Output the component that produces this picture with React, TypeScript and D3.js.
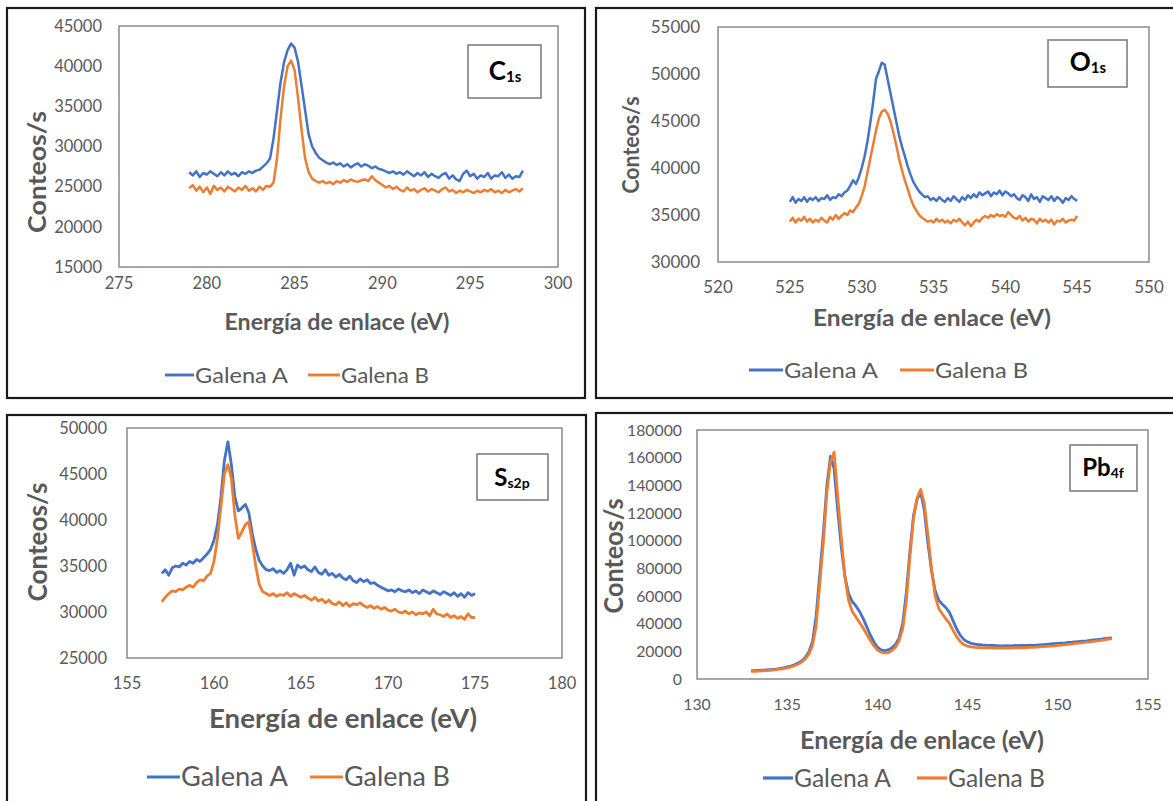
import React from "react";
import * as d3 from "d3";

// ---------------- DATA ----------------
const seriesNames = ["Galena A", "Galena B"];
const xTitle = "Energía de enlace (eV)";
const yTitle = "Conteos/s";

// C1s : x from 279.0 step 0.2
const c1sStart = 279.0;
const c1sStep = 0.2;
const c1sGalenaA = [
  26800, 26400, 26900, 26200, 26700, 26500, 26900, 26600, 26300, 26800,
  26400, 26900, 26500, 26700, 26300, 26800, 26600, 26900, 26700, 27000,
  27100, 27500, 27900, 28500, 31000, 34500, 38000, 40500, 42000, 42800,
  42300, 40500, 37500, 34500, 31500, 30000, 29200, 28600, 28300, 28000,
  27800, 28000, 27700, 27900, 27500, 27800, 27400, 27700, 27900, 27500,
  27800, 27600, 27300, 27500, 27200, 27100, 26900, 26700, 26900, 26600,
  26800, 26500, 26900, 26600, 26300, 26700, 26400, 26800, 26200, 26600,
  26300, 26100, 26500, 26700, 26000, 26400, 25900, 25700, 26600, 27000,
  26300, 26600, 26000, 26400, 26200, 26700, 26000, 26400, 26300, 26800,
  26100, 26500, 26000, 26300, 26200, 27000,
];
const c1sGalenaB = [
  24800, 25200, 24500, 25000, 24300, 24900, 24100, 25100, 24600, 24900,
  24400, 25000, 24700, 24400, 24900, 24600, 25100, 24500, 24800, 24400,
  25000, 24600, 25100, 25000, 25500, 28500, 33500, 37500, 40000, 40700,
  39500, 36000, 32000, 28500, 26800, 26000, 25700, 25500, 25700, 25400,
  25600, 25300, 25700, 25500, 25800, 25600, 25900, 25700, 25600, 25800,
  25900, 25700, 26300, 25800, 25500, 25200, 24900, 25100, 24700, 25000,
  24600, 24400, 24900, 24500, 24700, 24300, 24600, 24800, 24400, 24700,
  24500, 24300, 24700, 24900, 24400, 24600, 24200, 24500, 24300, 24600,
  24400, 24200, 24500, 24300, 24600, 24400, 24700, 24300, 24500, 24200,
  24600, 24300, 24500, 24700, 24400, 24800,
];
const c1sXTicks = [275, 280, 285, 290, 295, 300];
const c1sYTicks = [15000, 20000, 25000, 30000, 35000, 40000, 45000];

// O1s : x from 525.0 step 0.2
const o1sStart = 525.0;
const o1sStep = 0.2;
const o1sGalenaA = [
  36400, 36900, 36300, 36700, 36500, 36900, 36400, 36800, 36600, 36900,
  36500, 36800, 36700, 37100, 36600, 36900, 36800, 37200, 37000, 37400,
  37600, 38100, 38700, 38300, 39000, 40000, 41200, 42800, 44800, 47000,
  49500, 50300, 51200, 51000, 49500, 48000, 46500, 45000, 43500, 42300,
  41300, 40200, 39300, 38500, 38000, 37500, 37200, 36900, 37000, 36600,
  36800, 36500, 36900, 36600, 36400, 36800, 36500, 37000, 36700, 36400,
  36900, 36600, 37100, 36800, 37200, 36900, 37400, 37100, 37300, 37500,
  37000, 37400, 37200, 37600, 37100, 37500, 37300, 37000, 37200, 36800,
  36600, 37100, 36900, 36500, 37200, 36700, 36900, 36400, 37000, 36800,
  36600, 37000, 36500, 36900, 36700, 36300, 36800, 36600, 37000, 36700,
  36500,
];
const o1sGalenaB = [
  34300, 34700, 34200, 34600, 34400, 34800, 34300, 34600, 34200, 34500,
  34300, 34700, 34400, 34200, 34800, 34500, 35000, 34600, 34900, 35200,
  35000, 35500, 35300, 35800, 36200, 37000, 38000, 39500, 41000, 42500,
  44000, 45300, 46000, 46200, 45800, 45000, 43800, 42500, 41000, 39800,
  38700, 37800, 36800, 36000, 35500, 35000, 34700, 34500, 34300, 34400,
  34200, 34600, 34300, 34500, 34200, 34400, 34100, 34500, 34300, 34600,
  34200, 33900, 34300, 33800, 34200, 34500, 34300, 34700, 34900, 34700,
  35000, 34800, 35100, 34900, 35000, 34800, 35300, 35000, 34700, 34600,
  34900, 34400, 34700, 34300, 34600, 34500, 34100, 34600, 34300, 34500,
  34200, 34500, 34000, 34400, 34300, 34600, 34200, 34400, 34500, 34400,
  34900,
];
const o1sXTicks = [520, 525, 530, 535, 540, 545, 550];
const o1sYTicks = [30000, 35000, 40000, 45000, 50000, 55000];

// S2p : x from 157.0 step 0.2
const s2pStart = 157.0;
const s2pStep = 0.2;
const s2pGalenaA = [
  34200, 34600, 34000, 34800, 35000, 34900, 35300, 35100, 35500, 35300,
  35700, 35500, 35900, 36300, 36800, 37800, 39500, 42500, 46500, 48500,
  46000, 42500, 41000, 41300, 41700, 40800, 38500, 36800, 35600, 35000,
  34600, 34500, 34700, 34300, 34500, 34200, 34600, 35300, 34000, 35100,
  34800, 35000, 34600, 34400, 34900, 34300, 34100, 34600, 34000, 34200,
  33800, 34100, 33700, 33500, 33900, 33400, 33200, 33600, 33300, 33500,
  33100, 33200, 32900, 32700, 32500, 32300, 32400, 32200, 32500, 32300,
  32200, 32400, 32100, 32300, 32000, 32400, 32200, 32000, 32300, 32100,
  31900, 32200, 32000, 31800, 32100, 31700, 32000, 31600, 32100, 31800,
  32000,
];
const s2pGalenaB = [
  31100, 31600, 32000, 32300, 32200, 32500, 32400, 32700, 32900, 32700,
  33200, 33500, 33400, 33900, 34200, 35500, 38000, 41500, 45000, 46000,
  44500, 40500, 38000, 38700, 39500, 39800, 37500, 35000, 33000, 32200,
  32000, 31800, 32000, 31700, 31900, 31800, 32100, 31700, 32000, 31800,
  31600, 31800, 31500, 31300, 31600, 31200, 31400, 31000, 31300, 30900,
  30800, 31100, 30700, 31000, 30600, 30900, 30800, 31000, 30700, 30500,
  30700, 30400, 30600, 30300, 30500, 30200, 30100, 30300, 30000, 29900,
  30100, 29800, 30000, 29700, 29900, 29800, 30000, 29600, 30300, 29800,
  29700, 29500, 29800, 29400, 29600, 29300, 29500, 29200, 29800, 29400,
  29400,
];
const s2pXTicks = [155, 160, 165, 170, 175, 180];
const s2pYTicks = [25000, 30000, 35000, 40000, 45000, 50000];

// Pb4f : x from 133.0 step 0.2
const pb4fStart = 133.0;
const pb4fStep = 0.2;
const pb4fGalenaA = [
  6000, 6100, 6300, 6400, 6500, 6700, 6900, 7200, 7600, 8100,
  8700, 9400, 10300, 11500, 13000, 15500, 19500, 27000, 45000, 75000,
  105000, 140000, 161000, 152000, 122000, 95000, 74000, 62000, 56000, 53000,
  49000, 44000, 38000, 32000, 27000, 23000, 21000, 20500, 21000, 22500,
  25000, 29500, 40000, 62000, 92000, 118000, 130000, 135000, 122000, 98000,
  78000, 64000, 57000, 54000, 51500, 48000, 42000, 36000, 31500, 28500,
  26800, 25800, 25200, 24900, 24600, 24400, 24300, 24200, 24100, 24000,
  24000, 24100, 24000, 24200, 24100, 24300, 24200, 24400, 24300, 24500,
  24700, 24900, 25100, 25300, 25500, 25700, 25900, 26100, 26400, 26600,
  26900, 27100, 27400, 27600, 27900, 28200, 28500, 28800, 29200, 29600,
  29800,
];
const pb4fGalenaB = [
  5500, 5600, 5700, 5900, 6000, 6200, 6400, 6700, 7100, 7500,
  8100, 8800, 9600, 10700, 12200, 14500, 18000, 24000, 38000, 68000,
  98000, 135000, 157000, 164000, 132000, 102000, 74000, 57000, 49000, 45000,
  41000, 37000, 32500, 28000, 24000, 21000, 19500, 18800, 19000, 20500,
  23000, 27500, 36000, 56000, 88000, 116000, 131000, 137000, 127000, 104000,
  80000, 60000, 51000, 47000, 43500, 40000, 35000, 30500, 27000, 24800,
  23800, 23200, 22900, 22700, 22600, 22500, 22500, 22400, 22500, 22400,
  22400, 22500, 22400, 22600, 22500, 22700, 22600, 22800, 22900, 23000,
  23200, 23400, 23600, 23800, 24000, 24300, 24500, 24800, 25100, 25400,
  25700, 26000, 26300, 26600, 26900, 27200, 27500, 27900, 28300, 28800,
  29200,
];
const pb4fXTicks = [130, 135, 140, 145, 150, 155];
const pb4fYTicks = [0, 20000, 40000, 60000, 80000, 100000, 120000, 140000, 160000, 180000];

// ---------------- STYLE / LAYOUT ----------------
const FONT = "Lato, 'Open Sans', sans-serif";
const BLUE = "#4472C4";
const ORANGE = "#ED7D31";
const GRAY = "#595959";

type Panel = {
  border: { x: number; y: number; w: number; h: number };
  plot: { l: number; r: number; t: number; b: number };
  xTicks: number[];
  yTicks: number[];
  start: number;
  step: number;
  a: number[];
  b: number[];
  tickFs: number;
  yLabRight: number;
  xLabY: number;
  yT: { x: number; y: number; len: number; fs: number };
  xT: { x: number; y: number; len: number; fs: number };
  leg: { y: number; fs: number; a: [number, number, number, number]; b: [number, number, number, number] };
  box: { x: number; y: number; w: number; h: number; tx: number; ty: number; main: string; sub: string; fs: number; sfs: number };
  lw: number;
};

const panels: Panel[] = [
  {
    border: { x: 7, y: 8, w: 578, h: 390 },
    plot: { l: 119, r: 558, t: 26, b: 267 },
    xTicks: c1sXTicks, yTicks: c1sYTicks, start: c1sStart, step: c1sStep, a: c1sGalenaA, b: c1sGalenaB,
    tickFs: 16.5, yLabRight: 102, xLabY: 283,
    yT: { x: 38, y: 172, len: 122, fs: 24 },
    xT: { x: 337, y: 322, len: 225, fs: 22 },
    leg: { y: 375, fs: 22, a: [165, 194, 195, 93], b: [308, 340, 341, 88] },
    box: { x: 468, y: 45, w: 73, h: 53, tx: 505, ty: 74, main: "C", sub: "1s", fs: 26, sfs: 15 },
    lw: 2.5,
  },
  {
    border: { x: 596, y: 8, w: 600, h: 390 },
    plot: { l: 718, r: 1149, t: 27, b: 262 },
    xTicks: o1sXTicks, yTicks: o1sYTicks, start: o1sStart, step: o1sStep, a: o1sGalenaA, b: o1sGalenaB,
    tickFs: 17, yLabRight: 700, xLabY: 287,
    yT: { x: 631, y: 145, len: 97, fs: 22 },
    xT: { x: 932, y: 318, len: 238, fs: 22 },
    leg: { y: 370, fs: 22, a: [749, 783, 784, 94], b: [900, 934, 935, 93] },
    box: { x: 1048, y: 40, w: 79, h: 47, tx: 1088, ty: 65, main: "O", sub: "1s", fs: 26, sfs: 15 },
    lw: 2.5,
  },
  {
    border: { x: 7, y: 415, w: 579, h: 400 },
    plot: { l: 127, r: 562, t: 428, b: 658 },
    xTicks: s2pXTicks, yTicks: s2pYTicks, start: s2pStart, step: s2pStep, a: s2pGalenaA, b: s2pGalenaB,
    tickFs: 16.5, yLabRight: 107, xLabY: 683,
    yT: { x: 38, y: 542, len: 119, fs: 27 },
    xT: { x: 343, y: 719, len: 268, fs: 27 },
    leg: { y: 777, fs: 26, a: [147, 180, 181, 107], b: [310, 343, 344, 106] },
    box: { x: 477, y: 454, w: 71, h: 46, tx: 512, ty: 480, main: "S", sub: "s2p", fs: 24, sfs: 14 },
    lw: 2.8,
  },
  {
    border: { x: 596, y: 413, w: 600, h: 400 },
    plot: { l: 697, r: 1148, t: 430, b: 679 },
    xTicks: pb4fXTicks, yTicks: pb4fYTicks, start: pb4fStart, step: pb4fStep, a: pb4fGalenaA, b: pb4fGalenaB,
    tickFs: 15.8, yLabRight: 682, xLabY: 704,
    yT: { x: 614, y: 556, len: 115, fs: 26 },
    xT: { x: 922, y: 740, len: 244, fs: 25 },
    leg: { y: 778, fs: 25, a: [763, 793, 794, 97], b: [917, 947, 948, 97] },
    box: { x: 1070, y: 445, w: 67, h: 46, tx: 1103, ty: 470, main: "Pb", sub: "4f", fs: 24, sfs: 14 },
    lw: 2.8,
  },
];

function ChartPanel({ p }: { p: Panel }) {
  const xs = d3
    .scaleLinear()
    .domain([p.xTicks[0], p.xTicks[p.xTicks.length - 1]])
    .range([p.plot.l, p.plot.r]);
  const ys = d3
    .scaleLinear()
    .domain([p.yTicks[0], p.yTicks[p.yTicks.length - 1]])
    .range([p.plot.b, p.plot.t]);
  const line = d3
    .line<number>()
    .x((_, i) => xs(p.start + i * p.step))
    .y((d) => ys(d));
  const cols = [BLUE, ORANGE];
  const legItems = [p.leg.a, p.leg.b];
  return (
    <g>
      <rect x={p.border.x} y={p.border.y} width={p.border.w} height={p.border.h} fill="#fff" stroke="#1a1a1a" strokeWidth={2.2} />
      <rect x={p.plot.l} y={p.plot.t} width={p.plot.r - p.plot.l} height={p.plot.b - p.plot.t} fill="none" stroke="#8a8a8a" strokeWidth={1.5} />
      {p.yTicks.map((t) => (
        <text key={"y" + t} x={p.yLabRight} y={ys(t)} dy="0.35em" textAnchor="end" fontSize={p.tickFs} fill={GRAY} fontFamily={FONT}>
          {t}
        </text>
      ))}
      {p.xTicks.map((t) => (
        <text key={"x" + t} x={xs(t)} y={p.xLabY} dy="0.35em" textAnchor="middle" fontSize={p.tickFs} fill={GRAY} fontFamily={FONT}>
          {t}
        </text>
      ))}
      <path d={line(p.a) || ""} fill="none" stroke={BLUE} strokeWidth={p.lw} strokeLinejoin="round" />
      <path d={line(p.b) || ""} fill="none" stroke={ORANGE} strokeWidth={p.lw} strokeLinejoin="round" />
      <text
        x={p.xT.x - p.xT.len / 2}
        y={p.xT.y}
        dy="0.35em"
        fontSize={p.xT.fs}
        fontWeight="bold"
        fill={GRAY}
        fontFamily={FONT}
        textLength={p.xT.len}
        lengthAdjust="spacingAndGlyphs"
      >
        {xTitle}
      </text>
      <text
        transform={`translate(${p.yT.x},${p.yT.y}) rotate(-90)`}
        x={-p.yT.len / 2}
        y={0}
        dy="0.35em"
        fontSize={p.yT.fs}
        fontWeight="bold"
        fill={GRAY}
        fontFamily={FONT}
        textLength={p.yT.len}
        lengthAdjust="spacingAndGlyphs"
      >
        {yTitle}
      </text>
      {legItems.map((it, i) => (
        <g key={"leg" + i}>
          <line x1={it[0]} x2={it[1]} y1={p.leg.y} y2={p.leg.y} stroke={cols[i]} strokeWidth={p.lw + 0.4} />
          <text
            x={it[2]}
            y={p.leg.y}
            dy="0.35em"
            fontSize={p.leg.fs}
            fill={GRAY}
            fontFamily={FONT}
            textLength={it[3]}
            lengthAdjust="spacingAndGlyphs"
          >
            {seriesNames[i]}
          </text>
        </g>
      ))}
      <rect x={p.box.x} y={p.box.y} width={p.box.w} height={p.box.h} fill="#fff" stroke="#7f7f7f" strokeWidth={1.6} />
      <text x={p.box.tx} y={p.box.ty} dy="0.35em" textAnchor="middle" fontFamily={FONT} fontWeight="bold" fill="#000">
        <tspan fontSize={p.box.fs}>{p.box.main}</tspan>
        <tspan fontSize={p.box.sfs} dy={2}>
          {p.box.sub}
        </tspan>
      </text>
    </g>
  );
}

export default function App() {
  return (
    <svg
      width={1173}
      height={801}
      viewBox="0 0 1173 801"
      style={{ position: "absolute", left: 0, top: 0, display: "block", background: "#fff" }}
    >
      <rect x={0} y={0} width={1173} height={801} fill="#fff" />
      {panels.map((p, i) => (
        <ChartPanel key={i} p={p} />
      ))}
    </svg>
  );
}
